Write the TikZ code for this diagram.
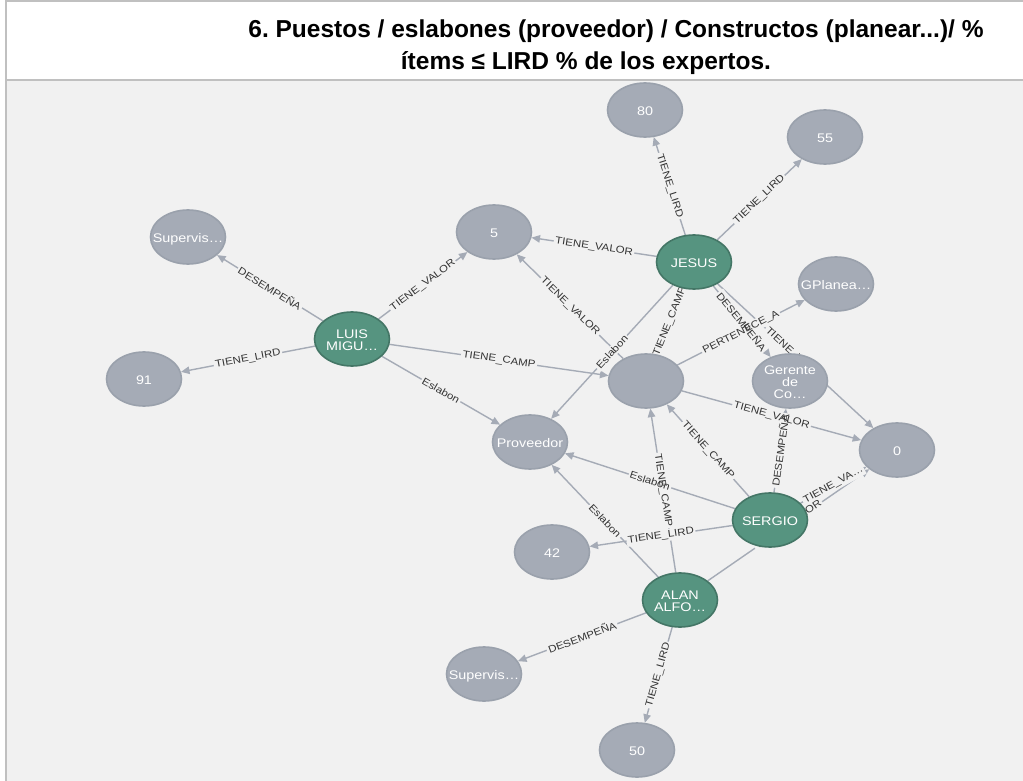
\documentclass[tikz,border=0pt]{standalone}
\usepackage{fontspec}
\setmainfont{Liberation Sans}
\newfontfamily\graphfont[FakeStretch=1.15]{Liberation Sans}
\usetikzlibrary{shapes.geometric,arrows.meta}

\pgfdeclarelayer{backdrop}
\pgfdeclarelayer{edgelines}
\pgfdeclarelayer{labelpads}
\pgfdeclarelayer{labeltexts}
\pgfsetlayers{backdrop,edgelines,labelpads,labeltexts,main}

\definecolor{canvasbg}{HTML}{F1F1F1}
\definecolor{framegray}{HTML}{C0C0C0}
\definecolor{propfill}{HTML}{A5ABB6}
\definecolor{propstroke}{HTML}{9AA1AC}
\definecolor{personfill}{HTML}{569480}
\definecolor{personstroke}{HTML}{447666}
\definecolor{reltext}{HTML}{333333}
\definecolor{relcolor}{HTML}{A5ABB6}

\tikzset{
  gnode/.style={ellipse, minimum width=75pt, minimum height=54pt, inner sep=0pt,
    line width=1.6pt, text=white,
    font=\graphfont\fontsize{12.5}{10.5}\selectfont},
  valnode/.style={gnode, fill=propfill, draw=propstroke},
  personnode/.style={gnode, fill=personfill, draw=personstroke},
  relline/.style={draw=relcolor, line width=1.4pt, -{Triangle[length=8.5pt,width=7.5pt]}},
  rellabel/.style={sloped, midway, inner sep=1.5pt,
    font=\graphfont\fontsize{10}{10}\selectfont, text=reltext},
  titlefont/.style={font=\bfseries\fontsize{24.5}{29}\selectfont, text=black},
}

% caption inside a circle: no size of its own, so the circle keeps its fixed
% size; lowered so the capitals sit on the circle's centre
\newcommand\captext[1]{\raisebox{-5.5pt}[0pt][0pt]{\makebox[0pt][c]{\begin{tabular}{@{}c@{}}#1\end{tabular}}}}

% one relationship: line with arrow, a padded gap and its sloped name
\newcommand\relarrow[3]{%
  \begin{pgfonlayer}{edgelines}\path[relline] (#1) -- (#2);\end{pgfonlayer}%
  \begin{pgfonlayer}{labelpads}\path (#1) -- node[rellabel, fill=canvasbg]{\phantom{#3}} (#2);\end{pgfonlayer}%
  \begin{pgfonlayer}{labeltexts}\path (#1) -- node[rellabel]{#3} (#2);\end{pgfonlayer}}

\begin{document}
\frenchspacing
\begin{tikzpicture}[x=1pt, y=-1pt]
\useasboundingbox (0,0) rectangle (1023,781);

% page, graph canvas and frame
\begin{pgfonlayer}{backdrop}
\fill[white] (0,0) rectangle (1023,781);
\fill[canvasbg] (6,80) rectangle (1023,781);
\draw[framegray, line width=2pt] (6,781) -- (6,1.5) -- (1023,1.5);
\draw[framegray, line width=2pt] (6,80) -- (1023,80);
\end{pgfonlayer}

% heading
\node[titlefont, anchor=base] (title1) at (616,38) {6. Puestos / eslabones (proveedor) / Constructos (planear...)/ \%};
\node[titlefont, anchor=base] (title2) at (586,70) {ítems ≤ LIRD \% de los expertos.};

% people
\node[personnode] (luis)   at (352,339) {\captext{LUIS\\MIGU…}};
\node[personnode] (jesus)  at (694,262) {\captext{JESUS}};
\node[personnode] (sergio) at (770,520) {\captext{SERGIO}};
\node[personnode] (alan)   at (680,600) {\captext{ALAN\\ALFO…}};

% values, roles, links and constructs
\node[valnode] (supA)  at (188,237) {\captext{Supervis…}};
\node[valnode] (v91)   at (144,379) {\captext{91}};
\node[valnode] (v5)    at (494,232) {\captext{5}};
\node[valnode] (v80)   at (645,110) {\captext{80}};
\node[valnode] (v55)   at (825,137) {\captext{55}};
\node[valnode] (gplan) at (836,284) {\captext{GPlanea…}};
\node[valnode] (camp)  at (646,381) {};
\node[valnode] (ger)   at (790,381) {\captext{Gerente\\de\\Co…}};
\node[valnode] (v0)    at (897,450) {\captext{0}};
\node[valnode] (prov)  at (530,442) {\captext{Proveedor}};
\node[valnode] (v42)   at (552,552) {\captext{42}};
\node[valnode] (supB)  at (484,674) {\captext{Supervis…}};
\node[valnode] (v50)   at (637,750) {\captext{50}};

% LUIS
\relarrow{luis}{supA}{DESEMPEÑA}
\relarrow{luis}{v91}{TIENE\_LIRD}
\relarrow{luis}{v5}{TIENE\_VALOR}
\relarrow{luis}{camp}{TIENE\_CAMP}
\relarrow{luis}{prov}{Eslabon}

% JESUS
\relarrow{jesus}{v80}{TIENE\_LIRD}
\relarrow{jesus}{v55}{TIENE\_LIRD}
\relarrow{jesus}{v5}{TIENE\_VALOR}
\relarrow{jesus}{camp}{TIENE\_CAMP}
\relarrow{jesus}{prov}{Eslabon}
\relarrow{jesus}{ger}{DESEMPEÑA}
\relarrow{jesus}{v0}{TIENE\_VALOR}

% construct node
\relarrow{camp}{gplan}{PERTENECE\_A}
\relarrow{camp}{v0}{TIENE\_VALOR}
\relarrow{camp}{v5}{TIENE\_VALOR}

% SERGIO
\relarrow{sergio}{prov}{Eslabon}
\relarrow{sergio}{camp}{TIENE\_CAMP}
\relarrow{sergio}{ger}{DESEMPEÑA}
\relarrow{sergio}{v42}{TIENE\_LIRD}
\relarrow{sergio}{v0}{TIENE\_VA…}

% ALAN
\relarrow{alan}{prov}{Eslabon}
\relarrow{alan}{camp}{TIENE\_CAMP}
\relarrow{alan}{v0}{TIENE\_VALOR}
\relarrow{alan}{supB}{DESEMPEÑA}
\relarrow{alan}{v50}{TIENE\_LIRD}
\end{tikzpicture}
\end{document}
